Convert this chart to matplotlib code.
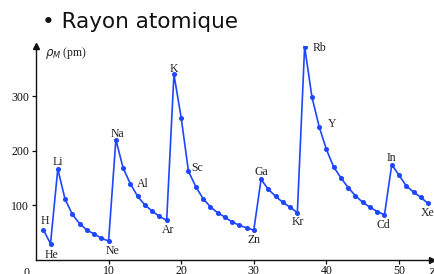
import matplotlib
matplotlib.use("Agg")
import matplotlib.pyplot as plt

symbols = ["H", "He", "Li", "Be", "B", "C", "N", "O", "F", "Ne",
           "Na", "Mg", "Al", "Si", "P", "S", "Cl", "Ar",
           "K", "Ca", "Sc", "Ti", "V", "Cr", "Mn", "Fe", "Co", "Ni", "Cu", "Zn",
           "Ga", "Ge", "As", "Se", "Br", "Kr",
           "Rb", "Sr", "Y", "Zr", "Nb", "Mo", "Tc", "Ru", "Rh", "Pd", "Ag", "Cd",
           "In", "Sn", "Sb", "Te", "I", "Xe"]
Z = list(range(1, 55))
radius_pm = [55, 29, 166, 111, 83, 66, 54, 47, 39, 34,
             220, 168, 139, 116, 100, 89, 79, 72,
             340, 260, 162, 134, 112, 97, 86, 78, 69, 63, 58, 54,
             147, 129, 116, 105, 96, 86,
             391, 299, 244, 202, 170, 150, 132, 117, 105, 96, 88, 82,
             174, 155, 135, 124, 114, 103]

labeled = ["H", "He", "Li", "Ne", "Na", "Al", "Ar", "K", "Sc", "Zn", "Ga",
           "Kr", "Rb", "Y", "Cd", "In", "Xe"]
# label offsets in points (dx, dy)
label_offsets = {
    "H": (1, 6), "He": (1, -8), "Li": (0, 5), "Ne": (3, -7), "Na": (1, 4),
    "Al": (9, 0), "Ar": (1, -7), "K": (0, 4), "Sc": (6, 2), "Zn": (0, -7),
    "Ga": (0, 5), "Kr": (0, -7), "Rb": (11, -1), "Y": (9, 2), "Cd": (-1, -7),
    "In": (0, 5), "Xe": (0, -7),
}

xticks = [10, 20, 30, 40, 50]
yticks = [100, 200, 300]

W, H = 434, 274
fig = plt.figure(figsize=(W / 100, H / 100), dpi=100)
x0, x1 = 36, 432
y0, y1 = 259.5, 46
ax = fig.add_axes([x0 / W, (H - y0) / H, (x1 - x0) / W, (y0 - y1) / H])
ax.set_xlim(0, (x1 - x0) / 7.26)
ax.set_ylim(0, 392)

blue = "#1d46ff"
ax.plot(Z, radius_pm, color=blue, lw=1.2, marker="o", ms=2.6, mec=blue, mfc=blue)

serif = "Liberation Serif"
for s in labeled:
    i = symbols.index(s)
    dx, dy = label_offsets[s]
    ax.annotate(s, (Z[i], radius_pm[i]), xytext=(dx, dy), textcoords="offset points",
                ha="center", va="center", fontsize=8.5, family=serif, color="#222222")

for side in ("top", "right"):
    ax.spines[side].set_visible(False)
for side in ("left", "bottom"):
    ax.spines[side].set_linewidth(1.0)
    ax.spines[side].set_color("#111111")

ax.set_xticks(xticks)
ax.set_yticks(yticks)
ax.set_xticklabels([str(v) for v in xticks], family=serif, fontsize=8.5)
ax.set_yticklabels([str(v) for v in yticks], family=serif, fontsize=8.5)
ax.tick_params(direction="out", length=3, width=0.9, pad=2, colors="#111111")
ax.tick_params(axis="x", pad=1.2)

# arrows on axes
ax.plot(1, 0, ">", transform=ax.transAxes, clip_on=False, color="#111111", ms=4)
ax.plot(0, 1, "^", transform=ax.transAxes, clip_on=False, color="#111111", ms=4)

ax.text(-0.025, -0.036, "0", transform=ax.transAxes, ha="center", va="top",
        family=serif, fontsize=8.5, color="#111111")
ax.text(1.0, -0.036, "Z", transform=ax.transAxes, ha="center", va="top",
        family=serif, style="italic", fontsize=8.5, color="#111111")

ax.text(0.022, 0.968, r"$\rho_M$ (pm)", transform=ax.transAxes, ha="left", va="center",
        family=serif, fontsize=8.5, color="#222222")

fig.text(42 / W, 1 - 22 / H, "• Rayon atomique", ha="left", va="center",
         family="DejaVu Sans", fontsize=15.5, color="#111111")

fig.savefig("out.png", dpi=100)
